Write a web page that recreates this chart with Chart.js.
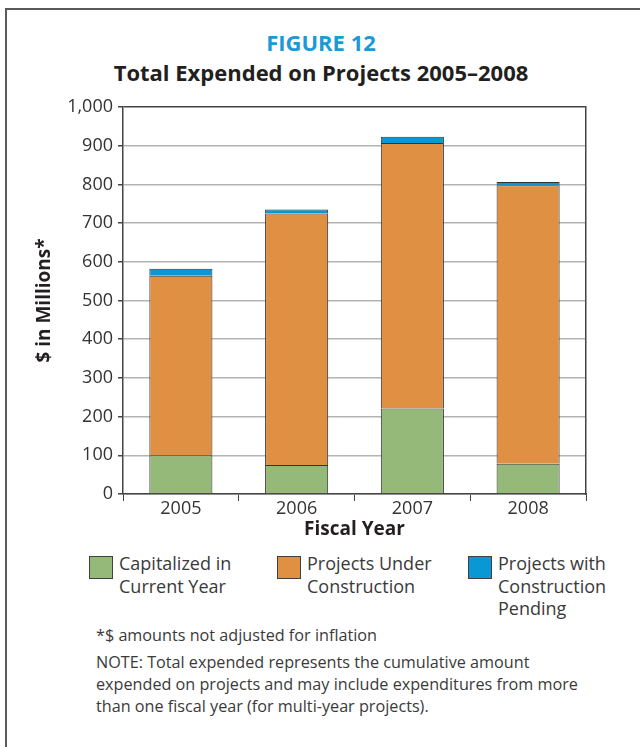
<!DOCTYPE html>
<html>
  <head>
    <meta charset="utf-8">
    <style type="text/css">
      body {
        margin: 0;
        width: 640px;
        height: 747px;
        background: #ffffff;
        font-family: 'Open Sans', 'Noto Sans', sans-serif;
        color: #333333;
        position: relative;
        overflow: hidden;
      }
      .frame {
        position: absolute;
        left: 5px;
        top: 8px;
        width: 700px;
        height: 800px;
        border-left: 2px solid #5a5a5a;
        border-top: 2px solid #5a5a5a;
      }
      .heading {
        position: absolute;
        left: 0;
        width: 642px;
        text-align: center;
        font-weight: bold;
        font-size: 22px;
        line-height: 30px;
      }
      .fig { top: 27px; color: #1a9ad6; }
      .sub { top: 57px; color: #231f20; }
      .chart-container {
        position: absolute;
        left: 0;
        top: 90px;
        width: 640px;
        height: 460px;
      }
      .swatch {
        position: absolute;
        top: 556px;
        width: 22px;
        height: 21px;
        border: 1px solid #404040;
      }
      .legend-text {
        position: absolute;
        top: 552px;
        font-size: 18px;
        line-height: 22.7px;
        color: #3a3a3a;
      }
      .note {
        position: absolute;
        left: 96px;
        font-size: 16.2px;
        line-height: 21.8px;
        color: #3a3a3a;
      }
    </style>
  </head>
  <body>
    <script src="https://cdnjs.cloudflare.com/ajax/libs/Chart.js/4.4.0/chart.umd.min.js"></script>

    <div class="frame"></div>
    <div class="heading fig">FIGURE 12</div>
    <div class="heading sub">Total Expended on Projects 2005–2008</div>

    <div class="chart-container">
      <canvas id="myChart" width="640" height="460"></canvas>
    </div>

    <div id="legend"></div>

    <div class="note" style="top:625px">*$ amounts not adjusted for inflation</div>
    <div class="note" style="top:652px">NOTE: Total expended represents the cumulative amount<br>expended on projects and may include expenditures from more<br>than one fiscal year (for multi-year projects).</div>

    <script>
      /* datas ($ in millions) */
      const years = ["2005", "2006", "2007", "2008"];
      const capitalized = [100, 75, 221, 78];
      const underConstruction = [464, 650, 686, 720];
      const pending = [18, 10, 16, 8];
      const yTicks = [0, 100, 200, 300, 400, 500, 600, 700, 800, 900, 1000];

      const seriesNames = ["Capitalized in\nCurrent Year", "Projects Under\nConstruction", "Projects with\nConstruction\nPending"];
      const seriesColors = ["#95b978", "#e09043", "#0a97d6"];
      const legendX = [89, 277, 468];

      const axisFont = { family: "'Open Sans', 'Noto Sans', sans-serif", size: 18 };
      const titleFont = { family: "'Open Sans', 'Noto Sans', sans-serif", size: 19, weight: 'bold' };

      // legend under the chart, html so lines wrap like the print version
      const legendEl = document.getElementById('legend');
      seriesNames.forEach((name, i) => {
        const sw = document.createElement('div');
        sw.className = 'swatch';
        sw.style.left = legendX[i] + 'px';
        sw.style.background = seriesColors[i];
        legendEl.appendChild(sw);
        const txt = document.createElement('div');
        txt.className = 'legend-text';
        txt.style.left = (legendX[i] + 30) + 'px';
        txt.innerHTML = name.split('\n').join('<br>');
        legendEl.appendChild(txt);
      });

      function makeSet(label, data, color) {
        return {
          label: label,
          data: data,
          backgroundColor: color,
          borderColor: '#333333',
          borderWidth: 1,
          categoryPercentage: 1.0,
          barPercentage: 0.545
        };
      }

      const myChart = new Chart('myChart', {
        type: 'bar',
        data: {
          labels: years,
          datasets: [
            makeSet(seriesNames[0], capitalized, seriesColors[0]),
            makeSet(seriesNames[1], underConstruction, seriesColors[1]),
            makeSet(seriesNames[2], pending, seriesColors[2])
          ]
        },
        options: {
          responsive: false,
          animation: false,
          layout: { padding: { top: 17, right: 54, left: 0, bottom: 0 } },
          plugins: {
            legend: { display: false },
            tooltip: { enabled: false }
          },
          scales: {
            x: {
              stacked: true,
              afterFit: function(scale) { scale.height = 56; },
              grid: {
                offset: true,
                drawOnChartArea: false,
                tickLength: 7,
                tickColor: '#444444'
              },
              border: { color: '#444444', width: 1.5 },
              ticks: { color: '#333333', font: axisFont, padding: -3 },
              title: {
                display: true,
                text: 'Fiscal Year',
                color: '#231f20',
                font: titleFont,
                padding: { top: 0, bottom: 9 }
              }
            },
            y: {
              stacked: true,
              min: 0,
              max: 1000,
              afterFit: function(scale) { scale.width = 123; },
              afterBuildTicks: function(scale) {
                scale.ticks = yTicks.map(v => ({ value: v }));
              },
              grid: {
                color: function(ctx) {
                  return ctx.tick && ctx.tick.value === 1000 ? '#444444' : '#b4b4b4';
                },
                lineWidth: 1.5,
                tickLength: 5,
                tickColor: '#444444'
              },
              border: { color: '#444444', width: 1.5 },
              ticks: {
                color: '#333333',
                font: axisFont,
                padding: 5,
                callback: function(value) {
                  return value.toLocaleString('en-US');
                }
              },
              title: {
                display: true,
                text: '$ in Millions*',
                color: '#231f20',
                font: titleFont,
                padding: { top: 33, bottom: 0 }
              }
            },
            y2: {
              position: 'right',
              display: true,
              min: 0,
              max: 1000,
              afterFit: function(scale) { scale.width = 0; },
              grid: { drawOnChartArea: false, drawTicks: false },
              border: { color: '#444444', width: 1.5 },
              ticks: { display: false }
            }
          }
        }
      });
    </script>
  </body>
</html>
